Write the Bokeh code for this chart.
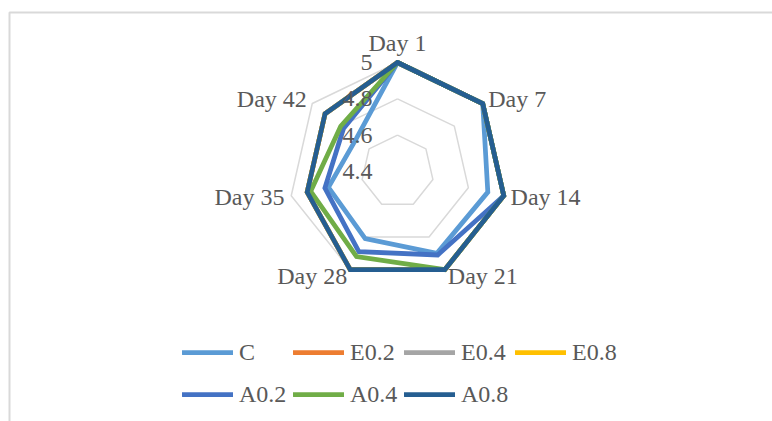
import numpy as np
from bokeh.plotting import figure
from bokeh.models import Range1d, Legend, LegendItem
from bokeh.core.properties import value
from bokeh.embed import file_html
from bokeh.resources import INLINE

categories = ["Day 1", "Day 7", "Day 14", "Day 21", "Day 28", "Day 35", "Day 42"]
series_names = ["C", "E0.2", "E0.4", "E0.8", "A0.2", "A0.4", "A0.8"]
C    = [5.00, 5.00, 4.91, 4.90, 4.81, 4.79, 4.69]
E0_2 = [5.00, 5.00, 5.00, 5.00, 5.00, 4.91, 4.91]
E0_4 = [5.00, 5.00, 5.00, 5.00, 5.00, 4.91, 4.91]
E0_8 = [5.00, 5.00, 5.00, 5.00, 5.00, 4.91, 4.91]
A0_2 = [5.00, 5.00, 5.00, 4.91, 4.89, 4.81, 4.78]
A0_4 = [5.00, 5.00, 5.00, 5.00, 4.92, 4.89, 4.80]
A0_8 = [5.00, 5.00, 5.00, 5.00, 5.00, 4.91, 4.91]
series_values = [C, E0_2, E0_4, E0_8, A0_2, A0_4, A0_8]
colors = ["#5B9BD5", "#ED7D31", "#A5A5A5", "#FFC000", "#4472C4", "#70AD47", "#255E91"]
radial_ticks = [4.4, 4.6, 4.8, 5.0]
radial_labels = ["4.4", "4.6", "4.8", "5"]

R_MIN, R_MAX = 4.4, 5.0
R_PX = 109.0
FONT = "Liberation Serif"
TXT = "#595959"
FS = "24px"

n = len(categories)
ang = np.arange(n) * 2 * np.pi / n

def rad(v):
    return (np.asarray(v, dtype=float) - R_MIN) / (R_MAX - R_MIN) * R_PX

def poly(v):
    r = rad(v)
    x = r * np.sin(ang)
    y = r * np.cos(ang)
    return np.append(x, x[0]), np.append(y, y[0])

W, H = 772, 421
p = figure(width=W, height=H, output_backend="svg", toolbar_location=None,
           x_range=Range1d(-397, 375), y_range=Range1d(-250, 171),
           min_border=0, outline_line_color=None)
p.xaxis.visible = False
p.yaxis.visible = False
p.xgrid.visible = False
p.ygrid.visible = False
p.background_fill_color = "white"
p.border_fill_color = "white"

# chart border (cropped chart area)
p.line([380, -388, -388], [159, 159, -255], line_color="#D9D9D9", line_width=2)

# grid rings
for t in radial_ticks[1:]:
    gx, gy = poly([t] * n)
    p.line(gx, gy, line_color="#D9D9D9", line_width=1.5)

# series
renderers = []
for name, vals, col in zip(series_names, series_values, colors):
    sx, sy = poly(vals)
    r = p.line(sx, sy, line_color=col, line_width=4.75, line_join="miter", line_cap="round")
    renderers.append(r)

# category labels
pad = 7
lx = (R_PX + pad) * np.sin(ang)
ly = (R_PX + pad) * np.cos(ang)
aligns = []
bases = []
for a in ang:
    s = np.sin(a)
    if abs(s) < 0.1:
        aligns.append("center")
        bases.append("bottom")
    elif s > 0:
        aligns.append("left")
        bases.append("middle")
    else:
        aligns.append("right")
        bases.append("middle")
for i in range(n):
    p.text(x=[lx[i]], y=[ly[i]], text=[categories[i]], text_align=aligns[i],
           text_baseline=bases[i], text_font=value(FONT), text_font_size=FS,
           text_color=TXT)

# radial axis labels
p.text(x=[-25] * len(radial_ticks), y=list(rad(radial_ticks)), text=radial_labels,
       text_align="right", text_baseline="middle", text_font=value(FONT),
       text_font_size=FS, text_color=TXT)

legend = Legend(items=[LegendItem(label=nm, renderers=[r]) for nm, r in zip(series_names, renderers)],
                orientation="horizontal", ncols=4, location=(182, 6),
                glyph_width=51, glyph_height=42, label_height=42, label_width=54,
                label_standoff=6, spacing=0, padding=0, margin=0,
                border_line_alpha=0, background_fill_alpha=0,
                label_text_font=FONT, label_text_font_size=FS, label_text_color=TXT)
p.add_layout(legend)

open("out.html", "w").write(file_html(p, INLINE))
